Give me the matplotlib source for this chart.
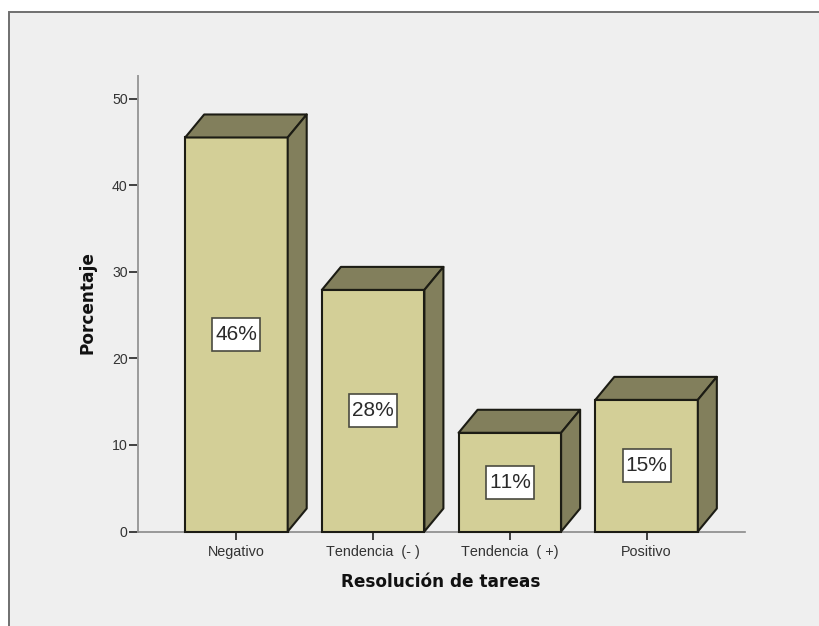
#!/usr/bin/env python3
"""Barras 3D de porcentaje por resolucion de tareas."""

import matplotlib
matplotlib.use("Agg")
import matplotlib.pyplot as plt
from matplotlib.patches import Polygon, Rectangle

plt.rcParams["font.family"] = ["Liberation Sans", "DejaVu Sans"]
plt.rcParams["text.kerning_factor"] = 6

categorias = ["Negativo", "Tendencia  (- )", "Tendencia  ( +)", "Positivo"]
porcentajes = [45.5, 27.9, 11.4, 15.2]
etiquetas = ["46%", "28%", "11%", "15%"]
yticks = [0, 10, 20, 30, 40, 50]

W, H = 819, 626
FRENTE = "#d3cf97"
LADO = "#827f5c"
BORDE = "#1c1c14"
FONDO = "#efefef"


def px_x(x):
    return x / W


def px_y(y):
    return 1 - y / H


fig = plt.figure(figsize=(W / 100, H / 100), dpi=100, facecolor="white")
fig.add_artist(Rectangle((px_x(9), -0.05), 1.05, px_y(12) + 0.05, transform=fig.transFigure,
                         facecolor=FONDO, edgecolor="#6f6f6f", linewidth=1.4, zorder=-1))

ax = fig.add_axes([px_x(138), px_y(531.5), px_x(745 - 138), px_y(76) - px_y(531.5)])
ax.set_facecolor("none")
ax.set_xlim(-0.72, 3.72)
ax.set_ylim(0, 52.6)

ancho = 0.75
dx = 19 / 136.7
dy = 23 / 8.66
caja_w = 48 / 136.7
caja_h = 33 / 8.66

for i, v in enumerate(porcentajes):
    x0, x1 = i - ancho / 2, i + ancho / 2
    ax.bar(i, v, width=ancho, color=FRENTE, edgecolor=BORDE, linewidth=1.5, zorder=3, clip_on=False)
    ax.add_patch(Polygon([(x0, v), (x1, v), (x1 + dx, v + dy), (x0 + dx, v + dy)], closed=True,
                         facecolor=LADO, edgecolor=BORDE, linewidth=1.5, joinstyle="round", zorder=3))
    ax.add_patch(Polygon([(x1, 0), (x1 + dx, dy), (x1 + dx, v + dy), (x1, v)], closed=True,
                         facecolor=LADO, edgecolor=BORDE, linewidth=1.5, joinstyle="round", zorder=3))
    # caja blanca de la etiqueta, mas alta que el texto
    ax.add_patch(Rectangle((i - caja_w / 2, v / 2 - caja_h / 2), caja_w, caja_h,
                           facecolor="white", edgecolor="#4a4a40", linewidth=1.2, zorder=4))
    ax.text(i, v / 2, etiquetas[i], ha="center", va="center", fontsize=15, color="#2a2a2a", zorder=5)

ax.spines[["top", "right"]].set_visible(False)
ax.spines["left"].set_color("#9a9a9a")
ax.spines["left"].set_linewidth(1.4)
ax.spines["bottom"].set_color("#8a8a8a")
ax.spines["bottom"].set_linewidth(1.2)
ax.set_yticks(yticks)
ax.set_xticks(range(len(categorias)))
ax.set_xticklabels(categorias)
ax.tick_params(axis="y", length=6.5, width=1.2, color="#222222", labelsize=10.2, labelcolor="#333333", pad=1)
ax.tick_params(axis="x", length=6, width=1.2, color="#222222", labelsize=10.4, labelcolor="#333333", pad=3.5)

fig.text(px_x(441), px_y(582), "Resolución de tareas", ha="center", va="center",
         fontsize=12.2, fontweight="bold", family="DejaVu Sans", color="#111111")
fig.text(px_x(88), px_y(303), "Porcentaje", ha="center", va="center", rotation=90,
         fontsize=12.2, fontweight="bold", family="DejaVu Sans", color="#111111")

fig.savefig("out.png", dpi=100, facecolor="white")
